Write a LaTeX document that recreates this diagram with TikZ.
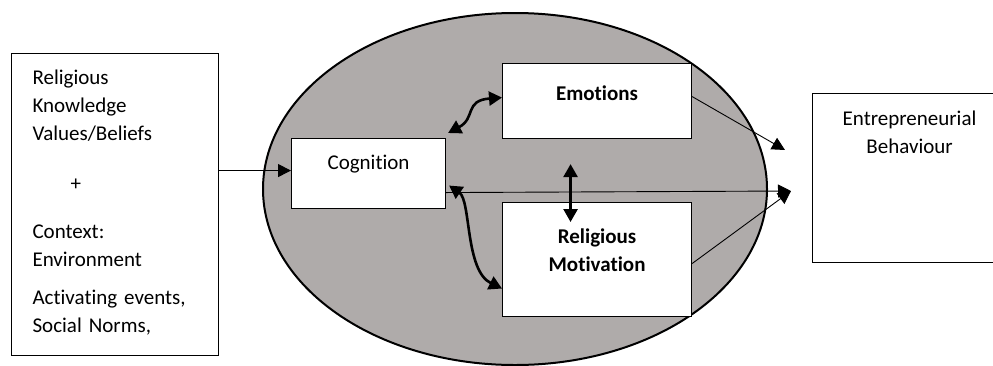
\documentclass[tikz,border=0pt]{standalone}
\usepackage{fontspec}
\setmainfont{Carlito}[Ligatures=NoCommon]
\usetikzlibrary{arrows.meta}
\definecolor{ovalgray}{RGB}{175,171,170}
\tikzset{
    boxnode/.style={draw, fill=white, line width=1.1pt, inner xsep=0pt, inner ysep=0pt,
        anchor=north west, align=center, font=\fontsize{21}{28}\selectfont},
    boldtext/.style={font=\fontsize{21}{28}\selectfont\bfseries},
    link/.style={line width=0.9pt, -{Triangle[length=13pt,width=13pt]}},
    duallink/.style={line width=2.6pt,
        {Triangle[length=13pt,width=14pt]}-{Triangle[length=13pt,width=14pt]}},
}
\begin{document}
\begin{tikzpicture}[x=1pt, y=-1pt]
            \clip (0,0) rectangle (993,365);
            % oval
            \draw[line width=2pt, fill=ovalgray] (515,189) ellipse [x radius=252pt, y radius=176pt];
            % boxes
            \node[boxnode, align=left, text width=165pt, inner xsep=21pt,
                text height=31pt, text depth=271pt] (know) at (11,53)
                {Religious\\Knowledge\\Values/Beliefs\\[22pt]
                 \hspace*{38pt}+\\[20pt]
                 Context:\\Environment\\[10pt]
                 Activating events,\\Social Norms,};
            \node[boxnode, text width=154pt, text height=31pt, text depth=39pt] (cog) at (291,138) {Cognition};
            \node[boxnode, boldtext, text width=189pt, text height=37pt, text depth=38pt] (emo) at (502,63) {Emotions};
            \node[boxnode, boldtext, text width=189pt, text height=41pt, text depth=73pt] (motiv) at (502,202) {Religious\\Motivation};
            \node[boxnode, text width=194pt, text height=32pt, text depth=137pt] (behav) at (812,93) {Entrepreneurial\\Behaviour};
            \coordinate (emotip) at (785,150);
            \coordinate (meet) at (791,191);
            \path ([yshift=3pt]cog.west) coordinate (cogin);
            % links
            \draw[link] (cogin -| know.east) -- (cogin);
            \draw[duallink] ([xshift=2pt,yshift=5pt]cog.north east) .. controls +(28,-15) and +(-38,3) .. ([yshift=3.5pt]emo.west);
            \draw[duallink] ([xshift=3pt,yshift=-12pt]cog.east) .. controls +(22,15) and +(-37,-18) .. ([yshift=-29pt]motiv.west);
            \draw[duallink] ([xshift=-26.5pt,yshift=-25pt]emo.south) -- ([xshift=-26.5pt,yshift=-20pt]motiv.north);
            \draw[link] ([yshift=-19pt]cog.east) -- (meet);
            \draw[link] ([yshift=4.5pt]emo.east) -- (emotip);
            \draw[link] ([yshift=-4pt]motiv.east) -- (meet);
\end{tikzpicture}
\end{document}
